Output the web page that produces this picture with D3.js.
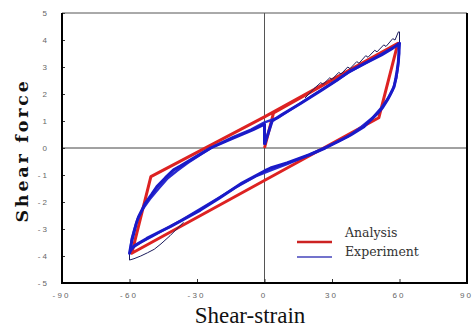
<!DOCTYPE html>
<html>
<head>
<meta charset="utf-8">
<script src="https://cdn.jsdelivr.net/npm/d3@7"></script>
<style>
  body { margin: 0; background: #fff; }
  svg { display: block; }
</style>
</head>
<body>
<script>
// axis ticks
const xTicks = [-90, -60, -30, 0, 30, 60, 90];
const xTickLabels = ['- 9 0', '- 6 0', '- 3 0', '0', '3 0', '6 0', '9 0'];
const yTicks = [5, 4, 3, 2, 1, 0, -1, -2, -3, -4, -5];
const yTickLabels = ['5', '4', '3', '2', '1', '0', '- 1', '- 2', '- 3', '- 4', '- 5'];

// analysis (red), [strain, force]
const analysis = [
  [0, 0], [4, 1.3], [59.3, 3.88], [50.8, 1.12], [-59, -3.9],
  [-50.5, -1.06], [0, 1.15], [59.3, 3.88]
];

// experiment, main cycle
const experimentA = [
  [0, 0.12], [3.4, 1.0], [8, 1.25], [16, 1.65], [25, 2.12], [32, 2.5], [38, 2.85],
  [45, 3.15], [52, 3.45], [57, 3.7], [60, 3.88],
  [59.8, 3.6], [59.5, 3.2], [59, 2.9], [58.3, 2.55], [57.6, 2.27], [56, 2.0], [54.6, 1.78],
  [52.5, 1.5], [50.2, 1.28], [47, 1.02], [44.2, 0.79], [38.3, 0.48], [33, 0.25], [27, 0],
  [20, -0.25], [10, -0.55], [2.7, -0.74], [0, -0.85], [-10, -1.3], [-20, -1.85],
  [-28.5, -2.3], [-35, -2.6], [-41.9, -2.91], [-47, -3.12], [-52.3, -3.35], [-57.5, -3.6],
  [-59.7, -3.8], [-60, -3.9],
  [-59, -3.45], [-58.2, -3.2], [-57, -2.8], [-56, -2.55], [-53, -2.05], [-50, -1.7],
  [-47.8, -1.43], [-44, -1.1], [-40.4, -0.81], [-37.4, -0.67], [-30, -0.3], [-24, 0],
  [-15, 0.33], [-5, 0.68], [0, 0.88], [0, 0.12]
];

// experiment, later cycle
const experimentB = [
  [-59.7, -3.85], [-59, -3.35], [-58, -3.05], [-56.5, -2.65], [-54, -2.25], [-51, -1.9],
  [-47, -1.5], [-43, -1.12], [-39, -0.85], [-34, -0.55], [-28, -0.22], [-22, 0.08],
  [-14, 0.4], [-6, 0.68], [0, 0.95], [6, 1.12], [14, 1.55], [22, 1.98], [30, 2.4],
  [37, 2.78], [44, 3.1], [50, 3.38], [55, 3.62], [59.5, 3.82],
  [59.8, 3.5], [59.3, 3.0], [58.6, 2.6], [57, 2.15], [55, 1.85], [52, 1.5], [48, 1.12],
  [43, 0.78], [37, 0.42], [31, 0.18], [25, -0.06], [18, -0.32], [10, -0.6], [3, -0.82],
  [-4, -1.05], [-12, -1.42], [-21, -1.88], [-29, -2.28], [-37, -2.68], [-44, -3.0],
  [-50, -3.28], [-55, -3.5], [-58.5, -3.68], [-59.7, -3.85]
];

// experiment, first cycle (thin line, only where it leaves the band)
const firstCycleTop = [
  [18, 1.85], [22, 2.2], [25, 2.42], [26, 2.36], [29, 2.6], [30, 2.54], [33, 2.8],
  [34, 2.74], [37, 3.0], [38, 2.94], [41, 3.2], [42, 3.14], [45, 3.42], [46, 3.36],
  [49, 3.62], [50, 3.56], [53, 3.82], [54, 3.76], [57, 4.05], [58, 4.0], [59.5, 4.3],
  [60, 4.3], [60, 3.88]
];
const firstCycleBottom = [
  [-36, -2.75], [-42, -3.25], [-46, -3.55], [-49, -3.75], [-52, -3.88], [-55, -4.0],
  [-58, -4.1], [-60, -4.15], [-60, -3.85]
];

const width = 476, height = 328;
const plotL = 62, plotR = 467, plotT = 13, plotB = 283;

const svg = d3.select('body').append('svg')
  .attr('width', width)
  .attr('height', height)
  .style('background', '#fff');

const x = d3.scaleLinear().domain([-90, 90]).range([plotL, plotR]);
const y = d3.scaleLinear().domain([-5, 5]).range([plotB, plotT]);

// zero lines
svg.append('line')
  .attr('x1', x(0)).attr('x2', x(0)).attr('y1', plotT).attr('y2', plotB)
  .attr('stroke', '#555').attr('stroke-width', 1);
svg.append('line')
  .attr('x1', plotL).attr('x2', plotR).attr('y1', y(0)).attr('y2', y(0))
  .attr('stroke', '#444').attr('stroke-width', 1);

// axes
const xAxis = d3.axisBottom(x)
  .tickValues(xTicks)
  .tickFormat((d, i) => xTickLabels[i])
  .tickSizeInner(-4)
  .tickSizeOuter(0)
  .tickPadding(9);
const gx = svg.append('g').attr('transform', `translate(0,${plotB})`).call(xAxis);

const yAxis = d3.axisLeft(y)
  .tickValues(yTicks)
  .tickFormat((d, i) => yTickLabels[i])
  .tickSizeInner(-3)
  .tickSizeOuter(0)
  .tickPadding(15);
const gy = svg.append('g').attr('transform', `translate(${plotL},0)`).call(yAxis);

[gx, gy].forEach(g => {
  g.select('.domain').remove();
  g.selectAll('.tick line').attr('stroke', '#333');
  g.selectAll('.tick text')
    .attr('fill', '#666')
    .style('font-family', 'Arial, "Liberation Sans", sans-serif')
    .style('font-size', '8px');
});
gx.selectAll('.tick text').attr('dx', -2);

// frame
svg.append('line').attr('x1', plotL).attr('x2', plotR).attr('y1', plotT).attr('y2', plotT)
  .attr('stroke', '#555').attr('stroke-width', 1);
svg.append('line').attr('x1', plotL).attr('x2', plotL).attr('y1', plotT).attr('y2', plotB + 1)
  .attr('stroke', '#000').attr('stroke-width', 2);
svg.append('line').attr('x1', plotR).attr('x2', plotR).attr('y1', plotT).attr('y2', plotB + 1)
  .attr('stroke', '#000').attr('stroke-width', 2);
svg.append('line').attr('x1', plotL).attr('x2', plotR).attr('y1', plotB).attr('y2', plotB)
  .attr('stroke', '#000').attr('stroke-width', 2);

const line = d3.line().x(d => x(d[0])).y(d => y(d[1]));

svg.append('path').datum(analysis)
  .attr('d', line).attr('fill', 'none')
  .attr('stroke', '#dd2222').attr('stroke-width', 3).attr('stroke-linejoin', 'round');

svg.append('path').datum(firstCycleTop)
  .attr('d', line).attr('fill', 'none')
  .attr('stroke', '#1c1c5c').attr('stroke-width', 1);
svg.append('path').datum(firstCycleBottom)
  .attr('d', line).attr('fill', 'none')
  .attr('stroke', '#1c1c5c').attr('stroke-width', 1);

svg.append('path').datum(experimentB)
  .attr('d', line).attr('fill', 'none')
  .attr('stroke', '#2a2ad0').attr('stroke-width', 2.4).attr('stroke-linejoin', 'round');
svg.append('path').datum(experimentA)
  .attr('d', line).attr('fill', 'none')
  .attr('stroke', '#1a1ac8').attr('stroke-width', 3).attr('stroke-linejoin', 'round');

// legend
const legend = svg.append('g');
legend.append('line').attr('x1', 297).attr('x2', 332).attr('y1', 242).attr('y2', 242)
  .attr('stroke', '#cc2222').attr('stroke-width', 2.5);
legend.append('line').attr('x1', 297).attr('x2', 332).attr('y1', 257).attr('y2', 257)
  .attr('stroke', '#4444bb').attr('stroke-width', 1.5);
legend.append('text').attr('x', 345).attr('y', 237).text('Analysis')
  .style('font-family', '"DejaVu Serif", serif').style('font-size', '12.5px').attr('fill', '#333');
legend.append('text').attr('x', 345).attr('y', 256).text('Experiment')
  .style('font-family', '"DejaVu Serif", serif').style('font-size', '12.5px').attr('fill', '#333');

// axis titles
svg.append('text')
  .attr('transform', 'translate(28,150.5) rotate(-90)')
  .attr('text-anchor', 'middle')
  .style('font-family', '"DejaVu Serif", serif')
  .style('font-weight', 'bold')
  .style('font-size', '17.5px')
  .style('letter-spacing', '2.8px')
  .attr('fill', '#111')
  .text('Shear force');

svg.append('text')
  .attr('x', 250).attr('y', 323)
  .attr('text-anchor', 'middle')
  .style('font-family', '"Liberation Serif", "Times New Roman", serif')
  .style('font-size', '23px')
  .attr('fill', '#111')
  .text('Shear-strain');
</script>
</body>
</html>
